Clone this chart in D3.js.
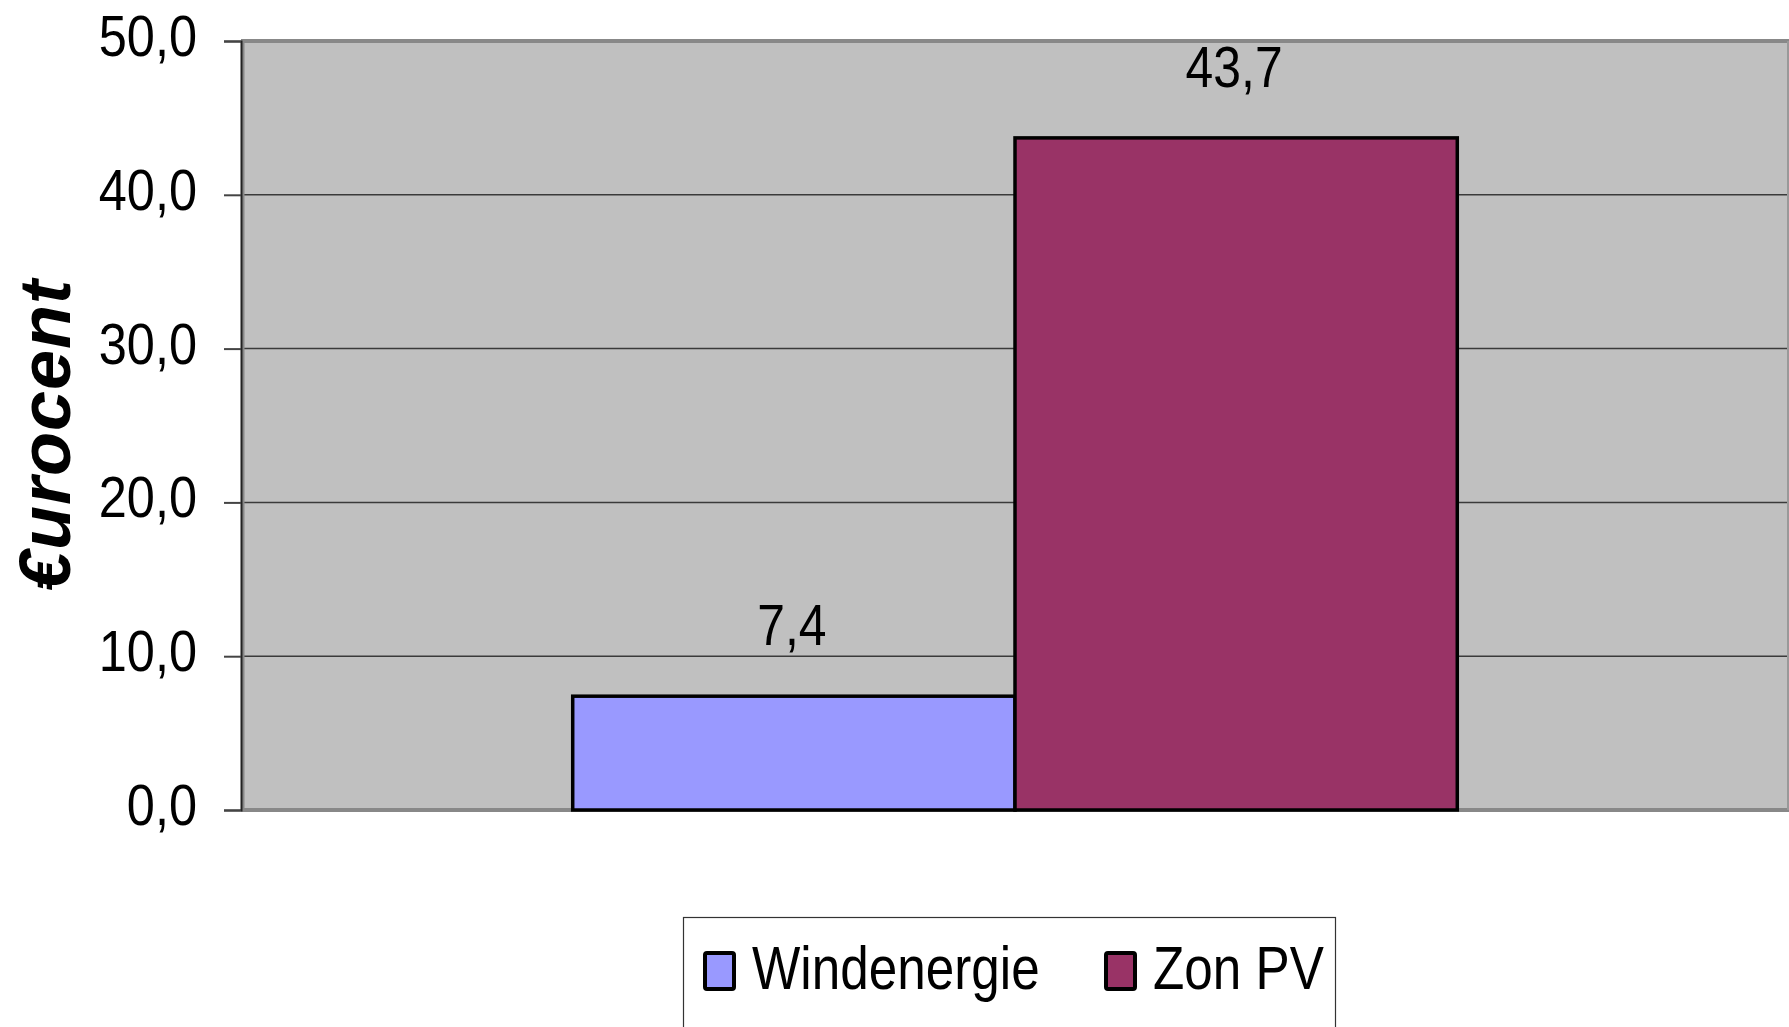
<!DOCTYPE html>
<html><head><meta charset="utf-8">
<script src="https://cdn.jsdelivr.net/npm/d3@7"></script>
<style>html,body{margin:0;padding:0;background:#fff;overflow:hidden}</style>
</head><body>
<svg id="chart" width="1789" height="1027"></svg>
<script>
const categories = ["Windenergie", "Zon PV"];
const values = [7.4, 43.7];
const colors = ["#9999FF", "#993366"];
const yTicks = [0, 10, 20, 30, 40, 50];
const yTitle = "€urocent";

const svg = d3.select("#chart");
const L = 241, R = 1789, T = 41, B = 810;
const font = "'Liberation Sans', Arial, sans-serif";
const fmt = v => d3.format(".1f")(v).replace(".", ",");

const y = d3.scaleLinear().domain([0, 50]).range([B, T]);
const x0 = d3.scaleBand().domain(["g"]).range([L, R]).paddingInner(0).paddingOuter(0.375);
const x1 = d3.scaleBand().domain(categories).range([0, x0.bandwidth()]);

// plot background
svg.append("rect").attr("x", L).attr("y", T).attr("width", R - L).attr("height", B - T).attr("fill", "#C0C0C0");

// gridlines
svg.append("g").selectAll("line").data(yTicks.filter(t => t > 0 && t < 50)).join("line")
  .attr("x1", L).attr("x2", R).attr("y1", d => y(d)).attr("y2", d => y(d))
  .attr("stroke", "#3a3a3a").attr("stroke-width", 1.5);

// plot border
svg.append("line").attr("x1", L).attr("x2", R).attr("y1", T).attr("y2", T).attr("stroke", "#888").attr("stroke-width", 4);
svg.append("line").attr("x1", L).attr("x2", R).attr("y1", B).attr("y2", B).attr("stroke", "#888").attr("stroke-width", 4);
svg.append("line").attr("x1", R - 1).attr("x2", R - 1).attr("y1", T).attr("y2", B).attr("stroke", "#999").attr("stroke-width", 2);
svg.append("line").attr("x1", L + 2).attr("x2", L + 2).attr("y1", T).attr("y2", B).attr("stroke", "#888").attr("stroke-width", 3);

// y axis
const yAxis = d3.axisLeft(y).tickValues(yTicks).tickSize(17).tickPadding(0).tickFormat(() => "");
const ga = svg.append("g").attr("transform", `translate(${L},0)`).call(yAxis);
ga.select(".domain").attr("stroke", "#222").attr("stroke-width", 2);
ga.selectAll(".tick line").attr("stroke", "#444").attr("stroke-width", 2);

// tick labels (narrow)
svg.append("g").selectAll("text").data(yTicks).join("text")
  .attr("transform", d => `translate(197,${y(d) + 15}) scale(0.87,1)`)
  .attr("text-anchor", "end").attr("font-family", font).attr("font-size", 58)
  .attr("fill", "#000").text(d => fmt(d));

// bars
const gb = svg.append("g").attr("transform", `translate(${x0("g")},0)`);
gb.selectAll("rect").data(values).join("rect")
  .attr("x", (d, i) => x1(categories[i]))
  .attr("y", d => y(d))
  .attr("width", x1.bandwidth())
  .attr("height", d => B - y(d))
  .attr("fill", (d, i) => colors[i])
  .attr("stroke", "#000").attr("stroke-width", 3.5);

// value labels
gb.selectAll("text").data(values).join("text")
  .attr("transform", (d, i) => `translate(${x1(categories[i]) + x1.bandwidth() / 2 - 2},${y(d) - 51}) scale(0.86,1)`)
  .attr("text-anchor", "middle").attr("font-family", font).attr("font-size", 58)
  .attr("fill", "#000").text(d => fmt(d));

// y title
svg.append("text")
  .attr("transform", `translate(70,435) rotate(-90)`)
  .attr("text-anchor", "middle").attr("font-family", font).attr("font-size", 72)
  .attr("font-weight", "bold").attr("font-style", "italic").attr("fill", "#000")
  .attr("letter-spacing", 1)
  .text(yTitle);

// legend
svg.append("rect").attr("x", 683.5).attr("y", 917.5).attr("width", 652).attr("height", 140)
  .attr("fill", "#fff").attr("stroke", "#333").attr("stroke-width", 1.2);
const legX = [703, 1104];
const lg = svg.append("g").selectAll("g").data(categories).join("g");
lg.append("rect").attr("x", (d, i) => legX[i] + 2).attr("y", 953).attr("width", 29).attr("height", 36)
  .attr("fill", (d, i) => colors[i]).attr("stroke", "#000").attr("stroke-width", 4).attr("rx", 2);
lg.append("text")
  .attr("transform", (d, i) => `translate(${legX[i] + 49},989) scale(0.84,1)`)
  .attr("font-family", font).attr("font-size", 61).attr("fill", "#000").text(d => d);
</script>
</body></html>
